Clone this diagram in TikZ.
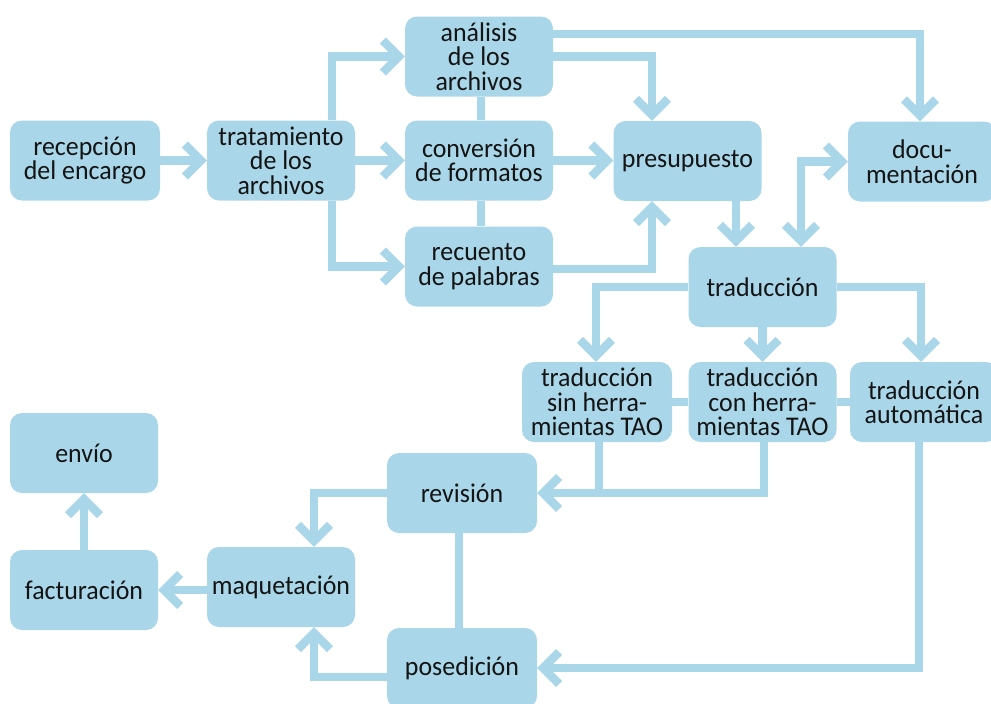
\documentclass[tikz,border=0pt]{standalone}
\usepackage{fontspec}
\setmainfont[FakeStretch=0.96]{Carlito}
\usetikzlibrary{arrows.meta,calc}
\definecolor{boxblue}{RGB}{169,215,233}
\definecolor{txt}{RGB}{20,20,20}
\begin{document}
\begin{tikzpicture}[x=1pt,y=-1pt,
  box/.style={fill=boxblue, rounded corners=12pt, minimum width=148pt, minimum height=80pt,
    inner sep=0pt, align=center, text=txt, font=\fontsize{27pt}{24.5pt}\selectfont},
  link/.style={draw=boxblue, line width=8.5pt, line cap=butt, line join=miter},
  arr/.style={link, -{Straight Barb[length=16pt,width=32pt]}},
  barr/.style={link, {Straight Barb[length=16pt,width=32pt]}-{Straight Barb[length=16pt,width=32pt]}}]
\useasboundingbox (0,0) rectangle (991,704);
\fill[white] (0,0) rectangle (991,704);
% nodes
\node[box, minimum width=150pt] (rec) at (85,160.5) {recepción\\del encargo};
\node[box] (trat) at (281,160.5) {tratamiento\\de los\\archivos};
\node[box] (ana) at (479,56.5) {análisis\\de los\\archivos};
\node[box] (conv) at (479,160.5) {conversión\\de formatos};
\node[box] (recu) at (479,266.5) {recuento\\de palabras};
\node[box] (pres) at (687.5,161) {presupuesto};
\node[box] (doc) at (922,161.5) {docu-\\mentación};
\node[box] (trad) at (762.5,287) {traducción};
\node[box, minimum width=150pt] (tsin) at (597,402) {traducción\\sin herra-\\mientas TAO};
\node[box] (tcon) at (762.5,402) {traducción\\con herra-\\mientas TAO};
\node[box] (tauto) at (924,402) {traducción\\automática};
\node[box] (envio) at (84,453) {envío};
\node[box] (fact) at (84,590) {facturación};
\node[box] (maq) at (281,587) {maquetación};
\node[box, minimum width=150pt] (rev) at (462,493) {revisión};
\node[box, minimum width=150pt] (pos) at (462,668) {posedición};
% helper coordinates
\coordinate (xa) at (332,0);
\coordinate (xb) at (481,0);
\coordinate (xp) at (652,0);
\coordinate (yd) at (0,34);
\coordinate (xd) at (920,0);
\coordinate (xt) at (736,0);
\coordinate (xu) at (801,0);
\coordinate (xs) at (596,0);
\coordinate (xau) at (921,0);
\coordinate (xs2) at (599,0);
\coordinate (xc2) at (764,0);
\coordinate (xa2) at (919,0);
\coordinate (xm) at (314,0);
\coordinate (xr) at (459,0);
\coordinate (yp) at (0,677);
\coordinate (yr) at (0,269);
% connectors
\draw[arr] (rec.east) -- (trat.west);
\draw[arr] (trat.north -| xa) |- (ana.west);
\draw[arr] (trat.east) -- (conv.west);
\draw[arr] (trat.south -| xa) |- (recu.west);
\draw[link] (ana.south -| xb) -- (conv.north -| xb);
\draw[link] (conv.south -| xb) -- (recu.north -| xb);
\draw[arr] (ana.east) -| (pres.north -| xp);
\draw[arr] (ana.east |- yd) -| (doc.north -| xd);
\draw[arr] (conv.east) -- (conv.east -| pres.west);
\draw[arr] (recu.east |- yr) -| (pres.south -| xp);
\draw[arr] (pres.south -| xt) -- (trad.north -| xt);
\draw[barr] (trad.north -| xu) |- (doc.west);
\draw[arr] (trad.west) -| (tsin.north -| xs);
\draw[arr] (trad.south) -- (tcon.north);
\draw[arr] (trad.east) -| (tauto.north -| xau);
\draw[link] (tsin.east) -- (tcon.west);
\draw[link] (tcon.east) -- (tauto.west);
\draw[arr] (tcon.south -| xc2) |- (rev.east);
\draw[link] (tsin.south -| xs2) -- (xs2 |- rev.east);
\draw[arr] (tauto.south -| xa2) |- (pos.east);
\draw[arr] (rev.west) -| (maq.north -| xm);
\draw[link] (rev.south -| xr) -- (pos.north -| xr);
\draw[arr] (pos.west |- yp) -| (maq.south -| xm);
\draw[arr] (maq.west |- fact.east) -- (fact.east);
\draw[arr] (fact.north) -- (envio.south);
\end{tikzpicture}
\end{document}
